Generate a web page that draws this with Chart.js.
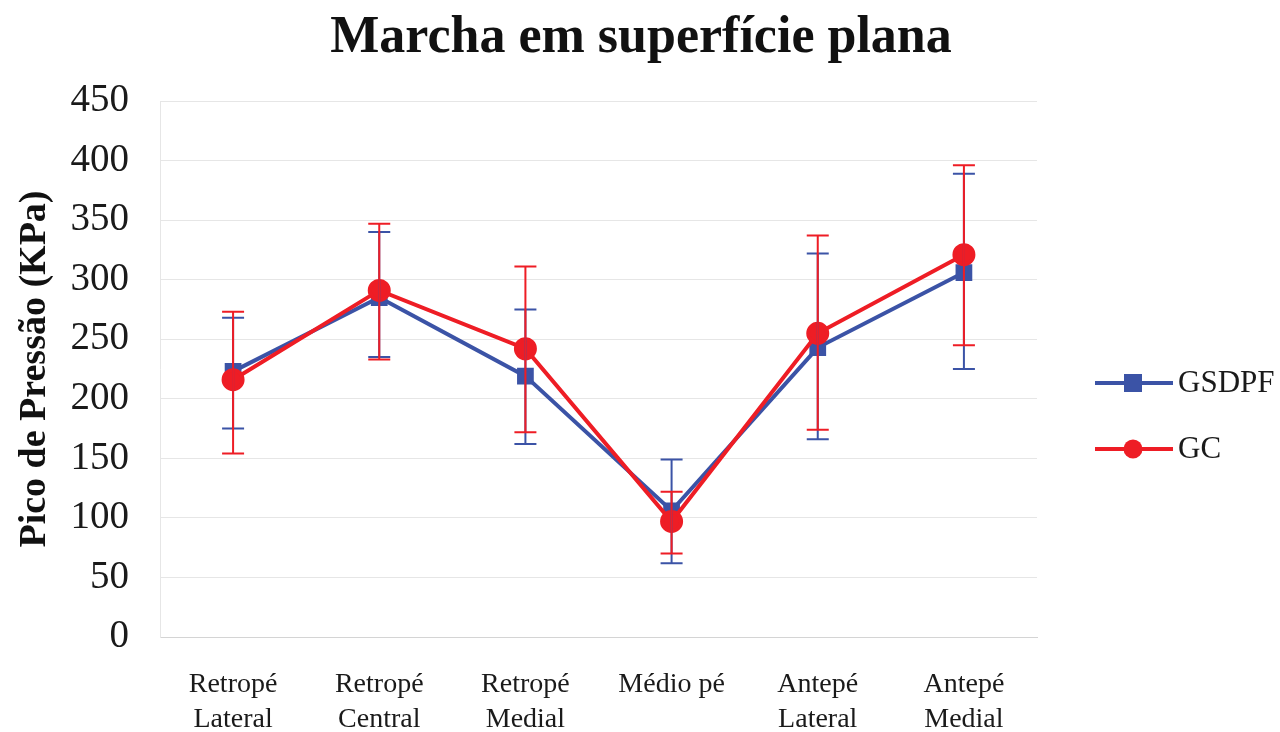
<!DOCTYPE html>
<html>
<head>
<meta charset="utf-8">
<script src="https://cdn.jsdelivr.net/npm/chart.js@4"></script>
<style>
  html, body { margin: 0; padding: 0; background: #fff; }
  #wrap { width: 1280px; height: 732px; }
</style>
</head>
<body>
<div id="wrap"><canvas id="myChart" width="1280" height="732"></canvas></div>
<script>
const categories = [
    ["Retropé", "Lateral"],
    ["Retropé", "Central"],
    ["Retropé", "Medial"],
    ["Médio pé"],
    ["Antepé", "Lateral"],
    ["Antepé", "Medial"],
];

const gsdpf = [223, 285, 219, 106, 243, 306];
const gsdpf_high = [268, 340, 275, 149, 322, 389];
const gsdpf_low = [175, 235, 162, 62, 166, 225];

const gc = [216, 291, 242, 97, 255, 321];
const gc_high = [273, 347, 311, 122, 337, 396];
const gc_low = [154, 233, 172, 70, 174, 245];

const y_ticks = [0, 50, 100, 150, 200, 250, 300, 350, 400, 450];

const chart_title = 'Marcha em superfície plana';
const blue = '#3B53A6';
const red = '#EE1D25';
const serif = '"Liberation Serif", "Times New Roman", serif';

// error bars drawn over the series, like the spreadsheet does
const errorBars = {
    id: 'errorBars',
    afterDatasetsDraw(chart) {
        const ctx = chart.ctx;
        const y = chart.scales.y;
        const bars = [
            {ds: 0, hi: gsdpf_high, lo: gsdpf_low, color: blue},
            {ds: 1, hi: gc_high, lo: gc_low, color: red},
        ];
        ctx.save();
        ctx.lineWidth = 2;
        bars.forEach(b => {
            const meta = chart.getDatasetMeta(b.ds);
            ctx.strokeStyle = b.color;
            meta.data.forEach((pt, i) => {
                const top = y.getPixelForValue(b.hi[i]);
                const bot = y.getPixelForValue(b.lo[i]);
                ctx.beginPath();
                ctx.moveTo(pt.x, top);
                ctx.lineTo(pt.x, bot);
                ctx.moveTo(pt.x - 11, top);
                ctx.lineTo(pt.x + 11, top);
                ctx.moveTo(pt.x - 11, bot);
                ctx.lineTo(pt.x + 11, bot);
                ctx.stroke();
            });
        });
        ctx.restore();
    }
};

// title centred on the whole canvas, legend on the right
const extras = {
    id: 'extras',
    afterDraw(chart) {
        const ctx = chart.ctx;
        ctx.save();
        ctx.fillStyle = '#111';
        ctx.font = 'bold 52px ' + serif;
        ctx.textAlign = 'center';
        ctx.textBaseline = 'alphabetic';
        ctx.fillText(chart_title, 641, 52);

        const items = [
            {label: 'GSDPF', color: blue, shape: 'rect', y: 383},
            {label: 'GC', color: red, shape: 'circle', y: 449},
        ];
        ctx.textAlign = 'left';
        items.forEach(it => {
            ctx.strokeStyle = it.color;
            ctx.fillStyle = it.color;
            ctx.lineWidth = 4;
            ctx.beginPath();
            ctx.moveTo(1095, it.y);
            ctx.lineTo(1173, it.y);
            ctx.stroke();
            if (it.shape === 'rect') {
                ctx.fillRect(1124, it.y - 9, 18, 18);
            } else {
                ctx.beginPath();
                ctx.arc(1133, it.y, 9.5, 0, Math.PI * 2);
                ctx.fill();
            }
            ctx.fillStyle = '#1a1a1a';
            ctx.font = '31px ' + serif;
            ctx.textBaseline = 'middle';
            ctx.fillText(it.label, 1178, it.y + 1);
        });
        ctx.restore();
    }
};

const myChart = new Chart('myChart', {
    type: 'line',
    data: {
        labels: categories,
        datasets: [
            {
                label: 'GSDPF',
                data: gsdpf,
                borderColor: blue,
                backgroundColor: blue,
                borderWidth: 4,
                pointStyle: 'rect',
                pointRadius: 9,
                pointHoverRadius: 9,
                tension: 0,
                order: 2,
            },
            {
                label: 'GC',
                data: gc,
                borderColor: red,
                backgroundColor: red,
                borderWidth: 4,
                pointStyle: 'circle',
                pointRadius: 9.5,
                pointHoverRadius: 9.5,
                tension: 0,
                order: 1,
            },
        ]
    },
    options: {
        responsive: false,
        animation: false,
        layout: {
            padding: {top: 101, right: 243, bottom: 0, left: 0}
        },
        plugins: {
            legend: {display: false},
            tooltip: {enabled: false},
            title: {display: false},
        },
        scales: {
            x: {
                offset: true,
                afterFit(axis) { axis.height = 95; },
                grid: {display: false, drawTicks: false},
                border: {display: true, color: '#d4d4d4', width: 1},
                ticks: {
                    color: '#1a1a1a',
                    font: {family: serif, size: 28, lineHeight: 1.25},
                    padding: 30,
                    maxRotation: 0,
                    autoSkip: false,
                },
            },
            y: {
                min: 0,
                max: 450,
                afterFit(axis) { axis.width = 160; },
                afterBuildTicks(axis) {
                    axis.ticks = y_ticks.map(v => ({value: v}));
                },
                grid: {color: '#e6e6e6', drawTicks: false},
                border: {display: true, color: '#e6e6e6'},
                ticks: {
                    color: '#1a1a1a',
                    font: {family: serif, size: 39},
                    padding: 31,
                },
                title: {
                    display: true,
                    text: 'Pico de Pressão (KPa)',
                    color: '#111',
                    font: {family: serif, size: 38, weight: 'bold'},
                    padding: {top: 12, bottom: 0},
                },
            },
        },
    },
    plugins: [errorBars, extras],
});
</script>
</body>
</html>
